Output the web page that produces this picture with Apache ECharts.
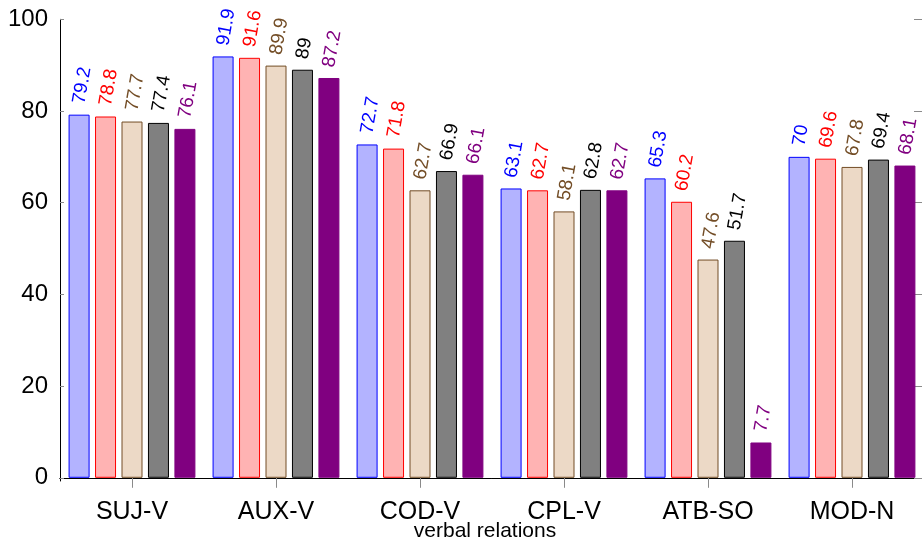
<!DOCTYPE html>
<html>
<head>
<meta charset="utf-8">
<script src="https://cdn.jsdelivr.net/npm/echarts@6/dist/echarts.min.js"></script>
<style>html,body{margin:0;padding:0;background:#fff}#c{width:922px;height:550px}</style>
</head>
<body>
<div id="c"></div>
<script>
const categories = ['SUJ-V', 'AUX-V', 'COD-V', 'CPL-V', 'ATB-SO', 'MOD-N'];
const series1 = [79.2, 91.9, 72.7, 63.1, 65.3, 70];
const series2 = [78.8, 91.6, 71.8, 62.7, 60.2, 69.6];
const series3 = [77.7, 89.9, 62.7, 58.1, 47.6, 67.8];
const series4 = [77.4, 89, 66.9, 62.8, 51.7, 69.4];
const series5 = [76.1, 87.2, 66.1, 62.7, 7.7, 68.1];
const yTicks = [0, 20, 40, 60, 80, 100];
const xTitle = 'verbal relations';

const FONT = 'Liberation Sans, Arial, Helvetica, sans-serif';
const styles = [
  {fill: '#b3b3ff', stroke: '#0000ff'},
  {fill: '#ffb3b3', stroke: '#ff0000'},
  {fill: '#ecd9c6', stroke: '#734d26'},
  {fill: '#808080', stroke: '#000000'},
  {fill: '#800080', stroke: '#800080'}
];
const allData = [series1, series2, series3, series4, series5];

const chart = echarts.init(document.getElementById('c'), null, {renderer: 'canvas'});
const tickColor = '#8a8a8a';
chart.setOption({
  animation: false,
  grid: {left: 60, right: -2, top: 19.3, bottom: 69, containLabel: false, outerBoundsMode: 'none'},
  xAxis: [{
    type: 'category', data: categories, position: 'bottom',
    axisLine: {show: true, lineStyle: {color: '#000', width: 1}},
    axisTick: {show: true, alignWithLabel: true, interval: 0, length: 10, inside: false, lineStyle: {color: tickColor}},
    axisLabel: {interval: 0, fontFamily: FONT, fontSize: 25, color: '#000', margin: 19},
    name: xTitle, nameLocation: 'middle', nameGap: 40, nameMoveOverlap: false,
    nameTextStyle: {fontFamily: FONT, fontSize: 21, color: '#000', padding: [0, 14, 0, 0]},
    splitLine: {show: false}
  }, {
    type: 'category', data: categories, position: 'top',
    axisLine: {show: true, lineStyle: {color: '#000', width: 1}},
    axisTick: {show: true, alignWithLabel: true, interval: 0, length: 11, inside: false, lineStyle: {color: tickColor}},
    axisLabel: {show: false},
    splitLine: {show: false}
  }],
  yAxis: [{
    type: 'value', min: -0.7, max: 100, position: 'left',
    axisLine: {show: true, lineStyle: {color: '#000', width: 1}},
    axisTick: {show: true, inside: true, length: 4, customValues: yTicks, lineStyle: {color: tickColor}},
    axisLabel: {customValues: yTicks, fontFamily: FONT, fontSize: 24, color: '#000', margin: 12},
    splitLine: {show: false}
  }, {
    type: 'value', min: -0.7, max: 100, position: 'right',
    axisLine: {show: true, lineStyle: {color: '#000', width: 1}},
    axisTick: {show: true, inside: true, length: 10, customValues: yTicks, lineStyle: {color: tickColor}},
    axisLabel: {show: false},
    splitLine: {show: false}
  }],
  series: allData.map((d, i) => ({
    type: 'bar', name: 'S' + (i + 1), data: d,
    xAxisIndex: 0, yAxisIndex: 0,
    barWidth: 21, barGap: '26%',
    itemStyle: {color: styles[i].fill, borderColor: styles[i].stroke, borderWidth: 1},
    label: {
      show: true, position: 'top', rotate: 80, align: 'left', verticalAlign: 'middle',
      distance: 11, fontFamily: FONT, fontSize: 19, color: styles[i].stroke
    }
  }))
});
</script>
</body>
</html>
